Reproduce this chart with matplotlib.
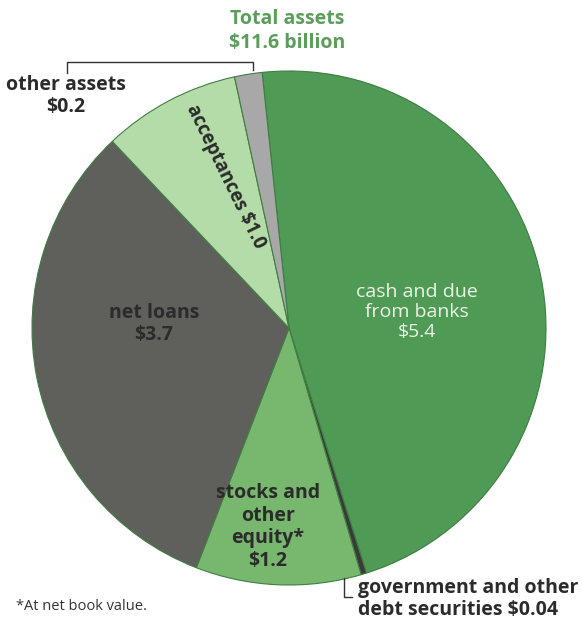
import matplotlib.pyplot as plt

# asset breakdown, billions of dollars
labels = ["cash and due\nfrom banks", "government and other\ndebt securities",
          "stocks and\nother\nequity*", "net loans", "acceptances", "other assets"]
values = [5.4, 0.04, 1.2, 3.7, 1.0, 0.2]
colors = ["#4f9a55", "#3a3a3a", "#78b86e", "#5f5f5c", "#b4dca8", "#a8a8a8"]
total = 11.6

W, H = 583, 620
fig = plt.figure(figsize=(W / 100, H / 100), dpi=100)
ax = fig.add_axes([0, 0, 1, 1])

def Y(y):
    # page coordinates measured from the top
    return H - y

ax.pie(values, colors=colors, startangle=96, counterclock=False,
       center=(289, Y(328)), radius=257, frame=True,
       wedgeprops=dict(edgecolor="#3f7d43", linewidth=0.8))
ax.set_xlim(0, W)
ax.set_ylim(0, H)
ax.set_aspect("equal")
ax.axis("off")

dark = "#2b2b2b"
green = "#5a9e5a"
fam = ["Open Sans", "DejaVu Sans"]
bold = dict(family=fam, fontweight="bold", ha="center", va="center")

ax.text(287, Y(31), "Total assets\n$%.1f billion" % total, color=green, fontsize=14,
        linespacing=1.25, **bold)

# other assets label with bracket
ax.text(66, Y(96), "%s\n$%.1f" % (labels[5], values[5]), color=dark, fontsize=14,
        linespacing=1.18, **bold)
ax.plot([67, 67, 253, 253], [Y(73), Y(62), Y(62), Y(70)], color="#333333", lw=1)

ax.text(226, Y(177), "%s $%.1f" % (labels[4], values[4]), color=dark, fontsize=13.5,
        rotation=-64, rotation_mode="anchor", **bold)

ax.text(154, Y(324), "%s\n$%.1f" % (labels[3], values[3]), color=dark, fontsize=14,
        linespacing=1.18, **bold)

ax.text(417, Y(312), "%s\n$%.1f" % (labels[0], values[0]), color="#eef3e6", fontsize=14,
        family=fam, ha="center", va="center", linespacing=1.14)

ax.text(268, Y(527), "%s\n$%.1f" % (labels[2], values[2]), color=dark, fontsize=14,
        linespacing=1.16, **bold)

# government securities label with L-bracket
ax.text(358, Y(599), "government and other\ndebt securities $%.2f" % values[1], color=dark,
        fontsize=14, family=fam, fontweight="bold",
        ha="left", va="center", linespacing=1.12)
ax.plot([344, 344, 352], [Y(578), Y(597), Y(597)], color="#333333", lw=1)

ax.text(16, Y(607), "*At net book value.", color="#333333", fontsize=10.5,
        family=fam, ha="left", va="center")

fig.savefig("out.png", dpi=100)
